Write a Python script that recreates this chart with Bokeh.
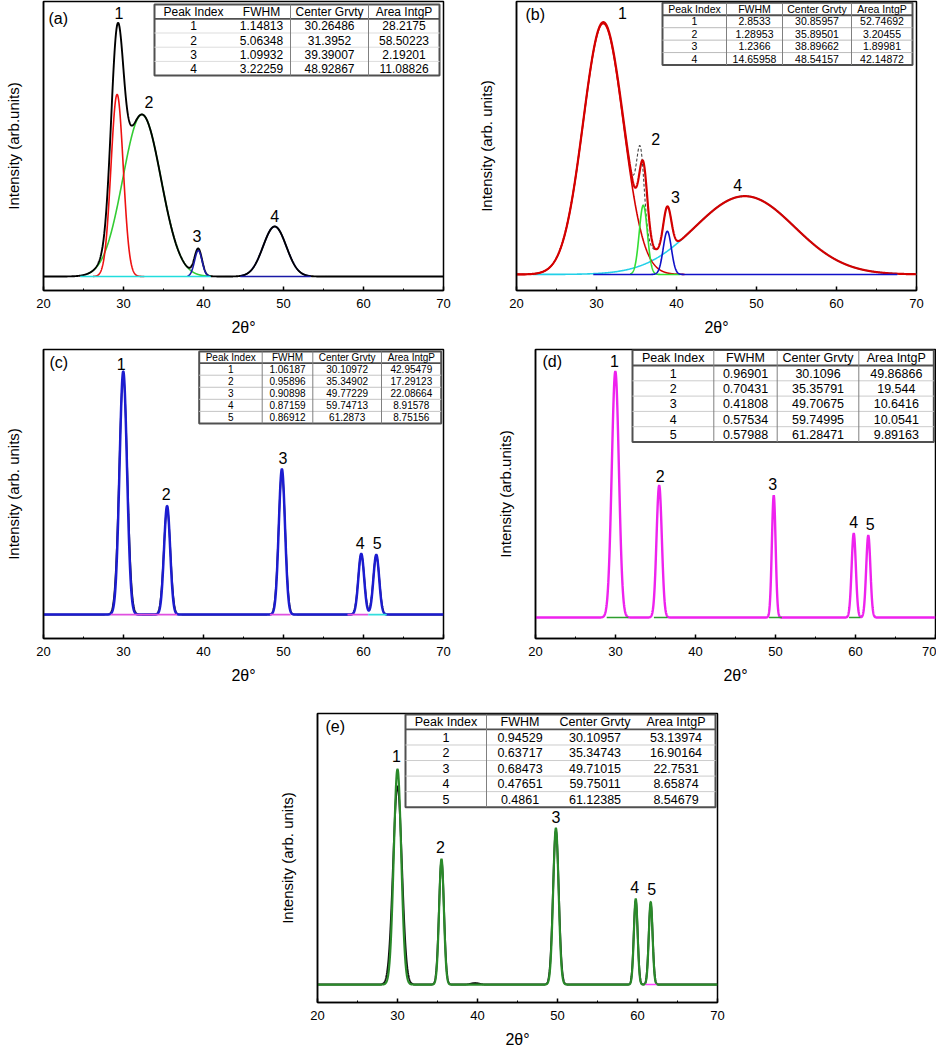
import numpy as np
from bokeh.plotting import figure
from bokeh.layouts import column, row
from bokeh.models import Range1d, FixedTicker, Spacer
from bokeh.core.properties import value
from bokeh.embed import file_html
from bokeh.resources import INLINE

FONT = "Liberation Sans"

# ---------------- shared axis data ----------------
x_ticks = [20, 30, 40, 50, 60, 70]
x_minor = [25, 35, 45, 55, 65]
table_header = ["Peak Index", "FWHM", "Center Grvty", "Area IntgP"]

# ---------------- panel (a) ----------------
a_center = [29.2, 32.3, 39.35, 48.9]
a_fwhm = [1.8, 5.6, 1.1, 3.4]
a_height = [182, 162, 26, 50]
a_comp_lo = [26.2, 25.5, 38.0, 44.6]
a_comp_hi = [32.6, 41.0, 40.8, 53.4]
a_base_lo = [24.6, 44.6]
a_base_hi = [40.9, 53.4]
a_tab_idx = ["1", "2", "3", "4"]
a_tab_fwhm = ["1.14813", "5.06348", "1.09932", "3.22259"]
a_tab_center = ["30.26486", "31.3952", "39.39007", "48.92867"]
a_tab_area = ["28.2175", "58.50223", "2.19201", "11.08826"]

# ---------------- panel (b) ----------------
b_center = [30.84, 35.85, 38.85, 48.54]
b_fwhm = [5.9, 1.2, 1.2, 14.66]
b_height = [250, 69, 43, 78]
b_comp_lo = [20.0, 34.2, 29.6, 22.0]
b_comp_hi = [41.0, 40.5, 67.6, 70.0]
b_obs_center = [30.84, 35.5, 38.85, 48.54]
b_obs_fwhm = [5.9, 1.1, 1.2, 14.66]
b_obs_height = [250, 74, 43, 78]
b_tab_idx = ["1", "2", "3", "4"]
b_tab_fwhm = ["2.8533", "1.28953", "1.2366", "14.65958"]
b_tab_center = ["30.85957", "35.89501", "38.89662", "48.54157"]
b_tab_area = ["52.74692", "3.20455", "1.89981", "42.14872"]

# ---------------- panel (c) ----------------
c_center = [29.97, 35.45, 49.8, 59.72, 61.6]
c_fwhm = [1.1, 0.9, 0.92, 0.85, 0.85]
c_height = [244, 109, 146, 61, 60]
c_obs_fwhm = [1.2, 0.98, 0.98, 0.9, 0.9]
c_obs_height = [238, 106, 142, 60, 59]
c_base_lo = [28.4, 48.3, 58.0, 60.6]
c_base_hi = [36.7, 50.9, 60.6, 62.9]
c_tab_idx = ["1", "2", "3", "4", "5"]
c_tab_fwhm = ["1.06187", "0.95896", "0.90898", "0.87159", "0.86912"]
c_tab_center = ["30.10972", "35.34902", "49.77229", "59.74713", "61.2873"]
c_tab_area = ["42.95479", "17.29123", "22.08664", "8.91578", "8.75156"]

# ---------------- panel (d) ----------------
d_center = [29.98, 35.46, 49.78, 59.78, 61.6]
d_fwhm = [1.05, 0.78, 0.55, 0.62, 0.62]
d_height = [246, 132, 122, 84, 82]
d_base_lo = [28.9, 34.8, 49.2, 59.2]
d_base_hi = [31.6, 36.5, 50.8, 60.6]
d_tab_idx = ["1", "2", "3", "4", "5"]
d_tab_fwhm = ["0.96901", "0.70431", "0.41808", "0.57534", "0.57988"]
d_tab_center = ["30.1096", "35.35791", "49.70675", "59.74995", "61.28471"]
d_tab_area = ["49.86866", "19.544", "10.6416", "10.0541", "9.89163"]

# ---------------- panel (e) ----------------
e_center = [30.0, 35.5, 49.8, 59.78, 61.65]
e_fwhm = [1.1, 0.7, 0.8, 0.55, 0.55]
e_height = [216, 126, 157, 86, 83]
e_obs_center = [30.0, 35.5, 49.8, 59.78, 61.65, 39.7]
e_obs_fwhm = [1.3, 0.74, 0.85, 0.58, 0.58, 1.2]
e_obs_height = [199, 124, 154, 84, 81, 1.5]
e_base_lo = [61.0]
e_base_hi = [62.35]
e_tab_idx = ["1", "2", "3", "4", "5"]
e_tab_fwhm = ["0.94529", "0.63717", "0.68473", "0.47651", "0.4861"]
e_tab_center = ["30.10957", "35.34743", "49.71015", "59.75011", "61.12385"]
e_tab_area = ["53.13974", "16.90164", "22.7531", "8.65874", "8.54679"]

XS = np.linspace(20, 70, 2501)


def gauss(x, c, w, h):
    return h * np.exp(-4.0 * np.log(2.0) * (x - c) ** 2 / w ** 2)


def sum_peaks(x, centers, fwhms, heights):
    y = np.zeros_like(x)
    for c, w, h in zip(centers, fwhms, heights):
        y = y + gauss(x, c, w, h)
    return y


def make_fig(w, h, bl, br, bt, bb, yr, ylabel):
    p = figure(width=w, height=h, x_range=Range1d(20, 70), y_range=Range1d(*yr),
               output_backend="svg", toolbar_location=None,
               min_border_left=bl, min_border_right=br,
               min_border_top=bt, min_border_bottom=bb)
    p.xgrid.visible = False
    p.ygrid.visible = False
    p.background_fill_color = "white"
    p.border_fill_color = "white"
    p.outline_line_color = "black"
    p.outline_line_width = 1.5
    p.outline_line_alpha = 1.0
    xa = p.xaxis[0]
    xa.ticker = FixedTicker(ticks=x_ticks, minor_ticks=x_minor)
    xa.major_tick_in = 4
    xa.major_tick_out = 0
    xa.minor_tick_in = 2
    xa.minor_tick_out = 0
    xa.major_tick_line_width = 1.5
    xa.axis_line_width = 1.5
    xa.major_label_text_font = FONT
    xa.major_label_text_font_size = "13px"
    xa.major_label_text_color = "black"
    xa.major_label_standoff = 8
    xa.axis_label = "2θ°"
    xa.axis_label_text_font = FONT
    xa.axis_label_text_font_size = "16px"
    xa.axis_label_text_font_style = "normal"
    xa.axis_label_text_color = "black"
    xa.axis_label_standoff = 8
    ya = p.yaxis[0]
    ya.ticker = FixedTicker(ticks=[])
    ya.major_tick_in = 0
    ya.major_tick_out = 0
    ya.minor_tick_in = 0
    ya.minor_tick_out = 0
    ya.major_label_standoff = 0
    ya.axis_line_width = 1.5
    ya.axis_label = ylabel
    ya.axis_label_text_font = FONT
    ya.axis_label_text_font_size = "15px"
    ya.axis_label_text_font_style = "normal"
    ya.axis_label_text_color = "black"
    ya.axis_label_standoff = 22
    return p


def draw_comp(p, c, w, h, lo, hi, color, lw):
    x = np.linspace(lo, hi, 800)
    p.line(x, gauss(x, c, w, h), line_color=color, line_width=lw)


def draw_bases(p, los, his, colors, lw):
    p.segment(x0=los, y0=[0.0] * len(los), x1=his, y1=[0.0] * len(his),
              line_color=colors, line_width=lw)


def draw_labels(p, x, ytot, centers, offs):
    lx, ly, lt = [], [], []
    for i, (c, (dx, dy)) in enumerate(zip(centers, offs)):
        m = np.abs(x - c) <= 0.8
        j = int(np.argmax(np.where(m, ytot, -1e9)))
        lx.append(x[j] + dx / 8.0)
        ly.append(ytot[j] + dy)
        lt.append(str(i + 1))
    p.text(x=lx, y=ly, text=lt, text_font=value(FONT), text_font_size="16px",
           text_align="center", text_baseline="middle", text_color="black")


def panel_label(p, txt, y_end, ox, oy):
    p.text(x=[20 + ox / 8.0], y=[y_end - oy], text=[txt], text_font=value(FONT),
           text_font_size="16px", text_align="left", text_baseline="top",
           text_color="black")


def draw_table(p, y_end, cols, top, hh, rh, font, seps, columns,
               row_col="#cccccc", sep_col="#808080"):
    X = lambda v: 20 + v / 8.0
    Y = lambda v: y_end - v
    n = len(columns[0])
    bottom = top + hh + rh * n
    p.quad(left=[X(cols[0])], right=[X(cols[-1])], top=[Y(top)], bottom=[Y(bottom)],
           fill_color="white", line_color="#505050", line_width=2)
    ys = [top + hh + rh * k for k in range(1, n)]
    if ys:
        p.segment(x0=[X(cols[0])] * len(ys), y0=[Y(v) for v in ys],
                  x1=[X(cols[-1])] * len(ys), y1=[Y(v) for v in ys],
                  line_color=row_col, line_width=1)
    p.segment(x0=[X(cols[0])], y0=[Y(top + hh)], x1=[X(cols[-1])], y1=[Y(top + hh)],
              line_color="#505050", line_width=1.8)
    if seps:
        p.segment(x0=[X(cols[k]) for k in seps], y0=[Y(top)] * len(seps),
                  x1=[X(cols[k]) for k in seps], y1=[Y(bottom)] * len(seps),
                  line_color=sep_col, line_width=1)
    tx, ty, tt = [], [], []
    for i in range(4):
        cx = X((cols[i] + cols[i + 1]) / 2.0)
        tx.append(cx)
        ty.append(Y(top + hh / 2.0))
        tt.append(table_header[i])
        for r in range(n):
            tx.append(cx)
            ty.append(Y(top + hh + rh * (r + 0.5)))
            tt.append(columns[i][r])
    p.text(x=tx, y=ty, text=tt, text_font=value(FONT), text_font_size=f"{font}px",
           text_align="center", text_baseline="middle", text_color="black")


# =============== (a) ===============
pa = make_fig(470, 342, 43, 27, 1, 52, (-14, 275), "Intensity (arb.units)")
a_cols = ["#ee1111", "#33cc33", "#1a1aa6", "#1a1aa6"]
for k in [1, 3]:
    draw_comp(pa, a_center[k], a_fwhm[k], a_height[k], a_comp_lo[k], a_comp_hi[k], a_cols[k], 1.6)
a_tot = sum_peaks(XS, a_center, a_fwhm, a_height)
pa.line(XS, a_tot, line_color="black", line_width=1.9)
for k in [0, 2]:
    draw_comp(pa, a_center[k], a_fwhm[k], a_height[k], a_comp_lo[k], a_comp_hi[k], a_cols[k], 1.6)
draw_bases(pa, a_base_lo, a_base_hi, ["#22dddd", "#1a1aa6"], 1.6)
draw_labels(pa, XS, a_tot, a_center, [(1, 10), (7, 12), (-1, 12), (0, 11)])
panel_label(pa, "(a)", 275, 5, 8)
draw_table(pa, 275, [111, 189, 247, 325, 396], 3, 14.3, 14.2, 12, [2, 3],
           [a_tab_idx, a_tab_fwhm, a_tab_center, a_tab_area], row_col="#dddddd")

# =============== (b) ===============
pb = make_fig(466, 342, 46, 20, 1, 52, (-16, 272), "Intensity (arb. units)")
b_cols = ["#d40000", "#33dd33", "#1010c8", "#22d0e8"]
b_obs = sum_peaks(XS, b_obs_center, b_obs_fwhm, b_obs_height)
pb.line(XS, b_obs, line_color="#444444", line_width=1.1, line_dash="3 2")
draw_comp(pb, b_center[3], b_fwhm[3], b_height[3], b_comp_lo[3], b_comp_hi[3], b_cols[3], 1.6)
b_tot = sum_peaks(XS, b_center, b_fwhm, b_height)
pb.line(XS, b_tot, line_color="#d40000", line_width=2.2)
for k in [0, 1, 2]:
    draw_comp(pb, b_center[k], b_fwhm[k], b_height[k], b_comp_lo[k], b_comp_hi[k], b_cols[k], 1.6)
draw_labels(pb, XS, b_tot, b_center, [(19, 9), (13, 21), (8, 9), (-7, 11)])
panel_label(pb, "(b)", 272, 9, 4)
draw_table(pb, 272, [146, 210, 266, 335, 396], 1.3, 12.4, 12.4, 10.5, [1, 2, 3],
           [b_tab_idx, b_tab_fwhm, b_tab_center, b_tab_area], row_col="#bbbbbb")

# =============== (c) ===============
pc = make_fig(480, 361, 43, 37, 7, 65, (-24, 266), "Intensity (arb. units)")
c_obs = sum_peaks(XS, c_center, c_obs_fwhm, c_obs_height)
pc.line(XS, c_obs, line_color="#111111", line_width=1.6)
c_tot = sum_peaks(XS, c_center, c_fwhm, c_height)
pc.line(XS, c_tot, line_color="#1c1cd0", line_width=2.5)
draw_bases(pc, c_base_lo, c_base_hi, ["#e050e0", "#e050e0", "#e050e0", "#33dddd"], 1.6)
draw_labels(pc, XS, c_tot, c_center, [(-2, 8), (-1, 12), (1, 11), (-1, 11), (1, 12)])
panel_label(pc, "(c)", 266, 6, 5)
draw_table(pc, 266, [155.7, 218.7, 269.3, 338, 397.7], 2, 11.7, 12.1, 10, [1, 2, 3],
           [c_tab_idx, c_tab_fwhm, c_tab_center, c_tab_area], row_col="#c4c4c4")

# =============== (d) ===============
pd = make_fig(456, 361, 55, 1, 7, 65, (-21, 268), "Intensity (arb.units)")
d_tot = sum_peaks(XS, d_center, d_fwhm, d_height)
pd.line(XS, d_tot, line_color="#ee22ee", line_width=2.4)
draw_bases(pd, d_base_lo, d_base_hi, ["#2e9e2e"] * 4, 1.6)
draw_labels(pd, XS, d_tot, d_center, [(-1, 11), (1, 10), (-1, 12), (0, 12), (2, 12)])
panel_label(pd, "(d)", 268, 7, 3)
draw_table(pd, 268, [97, 178.3, 241.7, 323.3, 398.3], 0.5, 15.5, 15.3, 12.5, [1, 2, 3],
           [d_tab_idx, d_tab_fwhm, d_tab_center, d_tab_area], row_col="#cccccc")

# =============== (e) ===============
pe = make_fig(470, 351, 50, 20, 10, 52, (-18, 272), "Intensity (arb. units)")
e_obs = sum_peaks(XS, e_obs_center, e_obs_fwhm, e_obs_height)
pe.line(XS, e_obs, line_color="#111111", line_width=1.9)
e_tot = sum_peaks(XS, e_center, e_fwhm, e_height)
pe.line(XS, e_tot, line_color="#2a8a2a", line_width=2.2)
draw_bases(pe, e_base_lo, e_base_hi, ["#ff44ff"], 1.6)
draw_labels(pe, XS, e_tot, e_center, [(-1, 13), (-1, 12), (0, 11), (-1, 12), (1, 13)])
panel_label(pe, "(e)", 272, 8, 5)
draw_table(pe, 272, [88, 169, 236, 319, 398], 1, 15, 15.6, 12.5, [1],
           [e_tab_idx, e_tab_fwhm, e_tab_center, e_tab_area], row_col="#cccccc")

layout = column(
    row(pa, pb),
    row(pc, pd),
    row(Spacer(width=267, height=351), pe),
)

open("out.html", "w").write(file_html(layout, INLINE))
